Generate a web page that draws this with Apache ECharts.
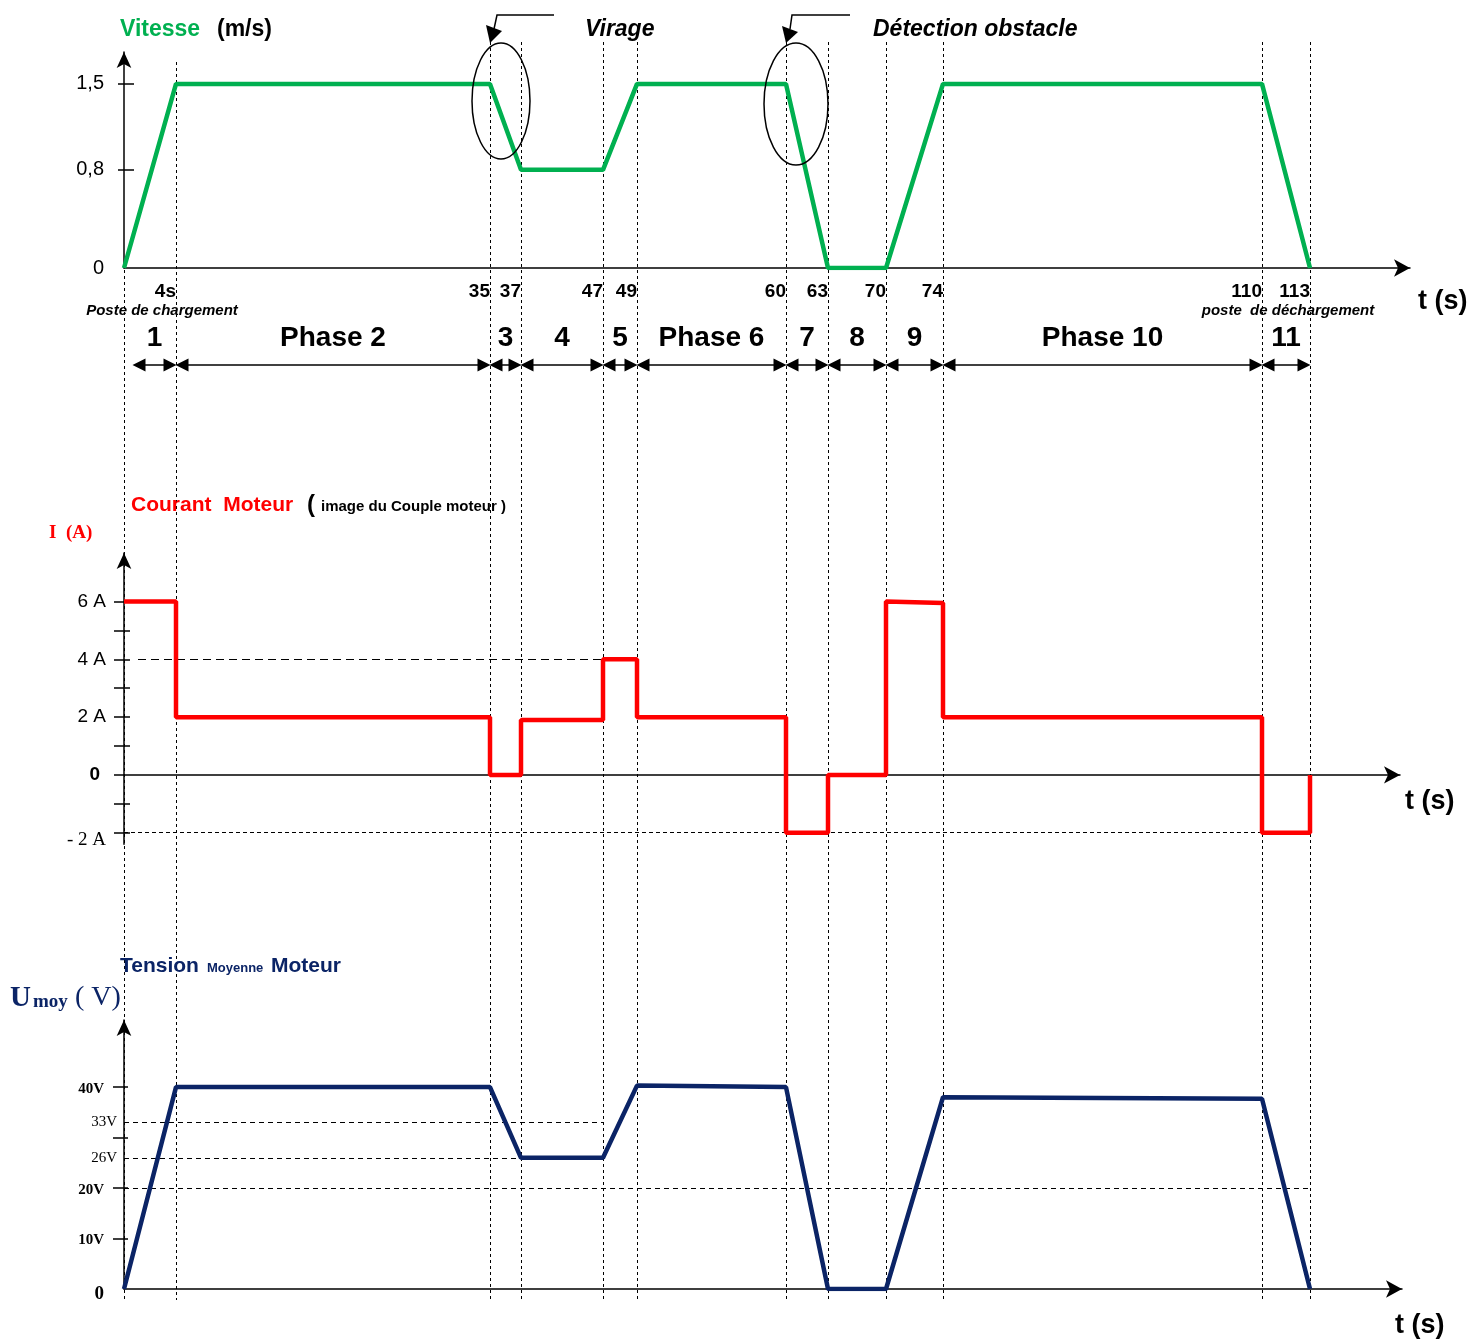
<!DOCTYPE html>
<html><head><meta charset="utf-8">
<script src="https://cdn.jsdelivr.net/npm/echarts@6/dist/echarts.min.js"></script>
<style>html,body{margin:0;padding:0;background:#fff}#c{width:1475px;height:1341px}</style>
</head><body><div id="c"></div>
<script>
// ---- data ----
const times       = [0, 4, 35, 37, 47, 49, 60, 63, 70, 74, 110, 113];
const timeLabels  = ['', '4s', '35', '37', '47', '49', '60', '63', '70', '74', '110', '113'];
// horizontal position of each instant on the (not-to-scale) schematic time axis
const schematicX  = [0, 52, 366, 397, 479, 513, 662, 704, 762, 819, 1138, 1186];
const speed       = [0, 1.5, 1.5, 0.8, 0.8, 1.5, 1.5, 0, 0, 1.5, 1.5, 0];
const phaseNames  = ['1', 'Phase 2', '3', '4', '5', 'Phase 6', '7', '8', '9', 'Phase 10', '11'];
const phaseCurrentStart = [6, 2, 0, 1.9, 4, 2, -2, 0, 6, 2, -2];
const phaseCurrentEnd   = [6, 2, 0, 1.9, 4, 2, -2, 0, 5.95, 2, -2];
const voltage     = [0, 40, 40, 26, 26, 40.3, 40, 0, 0, 38, 37.7, 0];
const speedLabels = [0, 0.8, 1.5];
const currentTicks = [-2, -1, 0, 1, 2, 3, 4, 5, 6];
const currentLabelValues = [-2, 0, 2, 4, 6];
const voltageTicks = [10, 20, 30, 40];
const voltageLabelValues = [0, 10, 20, 26, 33, 40];

// ---- build ----
const FONT = "'Liberation Sans', Arial, sans-serif";
const SERIF = "'Liberation Serif', 'Times New Roman', serif";
const GREEN = '#00B050', RED = '#FF0000', NAVY = '#0B2466';

const speedPts = schematicX.map((x, i) => [x, speed[i]]);
const voltPts = schematicX.map((x, i) => [x, voltage[i]]);
const currentPts = [];
for (let i = 0; i < phaseNames.length; i++) {
  currentPts.push([schematicX[i], phaseCurrentStart[i]]);
  currentPts.push([schematicX[i + 1], phaseCurrentEnd[i]]);
}
currentPts.push([schematicX[schematicX.length - 1], 0]);
const xEnd = schematicX[schematicX.length - 1];
const idx47 = times.indexOf(47);

const verticals = schematicX.map((x, i) => [{ coord: [x, i === 0 ? 270 : (i === 1 ? 62 : 42)] }, { coord: [x, 1300] }]);
const arrows = phaseNames.map((n, i) => [{ coord: [(i === 0 ? 9 : schematicX[i]) + 6, 365] }, { coord: [schematicX[i + 1] - 6, 365] }]);
const phaseMid = phaseNames.map((n, i) => [((i === 0 ? 9 : schematicX[i]) + schematicX[i + 1]) / 2, 338]);

const T = (x, y, text, font, fill, align) => ({
  type: 'text', x, y, z: 100,
  style: { text, font, fill: fill || '#000', align: align || 'left', verticalAlign: 'middle', textAlign: align || 'left', textVerticalAlign: 'middle' }
});

const option = {
  animation: false,
  backgroundColor: '#fff',
  textStyle: { fontFamily: FONT },
  grid: [
    { left: 124, top: 52, width: 1286, height: 216 },
    { left: 124, top: 553, width: 1276, height: 291.3 },
    { left: 124, top: 1020, width: 1278, height: 269 },
    { left: 124, top: 0, width: 1286, height: 1341 }
  ],
  xAxis: [
    { type: 'value', gridIndex: 0, min: 0, max: 1286, splitLine: { show: false },
      axisLine: { onZero: true, symbol: ['none', 'arrow'], symbolSize: [13, 16], lineStyle: { color: '#000', width: 1.5 } },
      axisTick: { show: false },
      axisLabel: { customValues: schematicX.slice(1), formatter: v => timeLabels[schematicX.indexOf(v)],
        align: 'right', margin: 14, fontSize: 19, fontWeight: 'bold', color: '#000', fontFamily: FONT } },
    { type: 'value', gridIndex: 1, min: 0, max: 1276, splitLine: { show: false },
      axisLine: { onZero: true, symbol: ['none', 'arrow'], symbolSize: [13, 16], lineStyle: { color: '#000', width: 1.5 } },
      axisTick: { show: false }, axisLabel: { show: false } },
    { type: 'value', gridIndex: 2, min: 0, max: 1278, splitLine: { show: false },
      axisLine: { onZero: true, symbol: ['none', 'arrow'], symbolSize: [13, 16], lineStyle: { color: '#000', width: 1.5 } },
      axisTick: { show: false }, axisLabel: { show: false } },
    { type: 'value', gridIndex: 3, min: 0, max: 1286, show: false }
  ],
  yAxis: [
    { type: 'value', gridIndex: 0, position: 'left', min: 0, max: 1.76, splitLine: { show: false },
      axisLine: { show: true, symbol: ['none', 'arrow'], symbolSize: [11, 16], lineStyle: { color: '#000', width: 1.5 } },
      axisTick: { show: true, customValues: [0.8, 1.5], length: 6, lineStyle: { color: '#000', width: 1.5 } },
      axisLabel: { customValues: speedLabels, formatter: v => String(v).replace('.', ','), fontSize: 20, color: '#000', margin: 20 } },
    { type: 'value', gridIndex: 1, position: 'left', min: -2.4, max: 7.68, splitLine: { show: false },
      axisLine: { show: true, onZero: false, symbol: ['none', 'arrow'], symbolSize: [11, 16], lineStyle: { color: '#000', width: 1.5 } },
      axisTick: { show: true, customValues: currentTicks, length: 10, lineStyle: { color: '#000', width: 1.5 } },
      axisLabel: { customValues: currentLabelValues, margin: 18, color: '#000',
        formatter: v => v === 0 ? '{z|0}' : (v < 0 ? '{n|- 2 A}' : '{a|' + v + ' A}'),
        rich: { z: { fontSize: 19, fontWeight: 'bold', fontFamily: FONT, color: '#000', padding: [0, 6, 0, 0] },
                n: { fontSize: 19, fontFamily: SERIF, color: '#000', padding: [14, 0, 0, 0] },
                a: { fontSize: 19, fontFamily: FONT, color: '#000' } } } },
    { type: 'value', gridIndex: 2, position: 'left', min: 0, max: 53.3, splitLine: { show: false },
      axisLine: { show: true, symbol: ['none', 'arrow'], symbolSize: [11, 16], lineStyle: { color: '#000', width: 1.5 } },
      axisTick: { show: true, customValues: voltageTicks, length: 11, lineStyle: { color: '#000', width: 1.5 } },
      axisLabel: { customValues: voltageLabelValues, margin: 7, color: '#000',
        formatter: v => v === 0 ? '{z|0}' : ((v === 26 || v === 33) ? '{n|' + v + 'V}' : '{b|' + v + 'V}'),
        rich: { z: { fontSize: 19, fontWeight: 'bold', fontFamily: SERIF, color: '#000', padding: [10, 13, 0, 0] },
                n: { fontSize: 15, fontFamily: SERIF, color: '#000' },
                b: { fontSize: 15, fontWeight: 'bold', fontFamily: SERIF, color: '#000', padding: [4, 13, 0, 0] } } } },
    { type: 'value', gridIndex: 3, min: 0, max: 1341, inverse: true, show: false },
    // inner halves of the crossing tick marks
    { type: 'value', gridIndex: 0, position: 'left', offset: 0, min: 0, max: 1.76, splitLine: { show: false }, axisLine: { show: false }, axisLabel: { show: false },
      axisTick: { show: true, inside: true, customValues: [0.8, 1.5], length: 10, lineStyle: { color: '#000', width: 1.5 } } },
    { type: 'value', gridIndex: 1, position: 'left', offset: 0, min: -2.4, max: 7.68, splitLine: { show: false }, axisLine: { show: false }, axisLabel: { show: false },
      axisTick: { show: true, inside: true, customValues: currentTicks.filter(v => v !== 0), length: 6, lineStyle: { color: '#000', width: 1.5 } } },
    { type: 'value', gridIndex: 2, position: 'left', offset: 0, min: 0, max: 53.3, splitLine: { show: false }, axisLine: { show: false }, axisLabel: { show: false },
      axisTick: { show: true, inside: true, customValues: voltageTicks, length: 4, lineStyle: { color: '#000', width: 1.5 } } }
  ],
  series: [
    { type: 'scatter', xAxisIndex: 3, yAxisIndex: 3, z: 1, silent: true, data: [],
      markLine: { silent: true, symbol: ['none', 'none'], label: { show: false }, lineStyle: { type: [3, 3], color: '#000', width: 1 }, data: verticals } },
    { type: 'scatter', xAxisIndex: 3, yAxisIndex: 3, z: 3, silent: true, symbolSize: 2, itemStyle: { color: 'rgba(0,0,0,0)', opacity: 1 },
      data: phaseMid,
      label: { show: true, position: 'inside', formatter: p => phaseNames[p.dataIndex], fontSize: 28, fontWeight: 'bold', color: '#000', opacity: 1, textBorderWidth: 0, fontFamily: FONT },
      markLine: { silent: true, symbol: ['triangle', 'triangle'], symbolSize: 13, label: { show: false }, lineStyle: { type: 'solid', color: '#000', width: 1.5 }, itemStyle: { color: '#000' }, data: arrows } },
    { type: 'line', name: 'Vitesse', xAxisIndex: 0, yAxisIndex: 0, z: 5, data: speedPts, symbol: 'none',
      lineStyle: { color: GREEN, width: 4.5 }, itemStyle: { color: GREEN } },
    { type: 'line', name: 'Courant', xAxisIndex: 1, yAxisIndex: 1, z: 5, data: currentPts, symbol: 'none',
      lineStyle: { color: RED, width: 4.5 }, itemStyle: { color: RED },
      markLine: { silent: true, symbol: ['none', 'none'], label: { show: false }, z: 2,
        data: [
          [{ coord: [14, 4], lineStyle: { type: [8, 5], color: '#000', width: 1 } }, { coord: [schematicX[idx47], 4] }],
          [{ coord: [0, -2], lineStyle: { type: [4, 3], color: '#000', width: 1 } }, { coord: [xEnd, -2] }]
        ] } },
    { type: 'line', name: 'Tension', xAxisIndex: 2, yAxisIndex: 2, z: 5, data: voltPts, symbol: 'none',
      lineStyle: { color: NAVY, width: 4.5 }, itemStyle: { color: NAVY },
      markLine: { silent: true, symbol: ['none', 'none'], label: { show: false }, z: 2, lineStyle: { type: [5, 4], color: '#000', width: 1 },
        data: [
          [{ coord: [0, 33] }, { coord: [schematicX[idx47], 33] }],
          [{ coord: [0, 26] }, { coord: [schematicX[idx47], 26] }],
          [{ coord: [0, 20] }, { coord: [xEnd, 20] }]
        ] } }
  ],
  graphic: [
    T(120, 30, 'Vitesse', 'bold 23px ' + FONT, GREEN),
    T(217, 30, '(m/s)', 'bold 23px ' + FONT, '#000'),
    T(585, 30, 'Virage', 'italic bold 23px ' + FONT, '#000'),
    T(873, 30, 'Détection obstacle', 'italic bold 23px ' + FONT, '#000'),
    { type: 'ellipse', shape: { cx: 501, cy: 101, rx: 29, ry: 58 }, style: { fill: 'none', stroke: '#000', lineWidth: 1.5 }, z: 50 },
    { type: 'ellipse', shape: { cx: 796, cy: 104, rx: 32, ry: 61 }, style: { fill: 'none', stroke: '#000', lineWidth: 1.5 }, z: 50 },
    { type: 'polyline', shape: { points: [[554, 15], [497, 15], [494, 29]] }, style: { fill: 'none', stroke: '#000', lineWidth: 1.5 }, z: 50 },
    { type: 'polygon', shape: { points: [[486, 25], [502, 31], [490, 43]] }, style: { fill: '#000' }, z: 50 },
    { type: 'polyline', shape: { points: [[850, 15], [792, 15], [790, 29]] }, style: { fill: 'none', stroke: '#000', lineWidth: 1.5 }, z: 50 },
    { type: 'polygon', shape: { points: [[782, 26], [798, 32], [786, 43]] }, style: { fill: '#000' }, z: 50 },
    T(162, 311, 'Poste de chargement', 'italic bold 15px ' + FONT, '#000', 'center'),
    T(1288, 311, 'poste  de déchargement', 'italic bold 15px ' + FONT, '#000', 'center'),
    T(1418, 302, 't (s)', 'bold 27px ' + FONT, '#000'),
    T(1405, 802, 't (s)', 'bold 27px ' + FONT, '#000'),
    T(1395, 1326, 't (s)', 'bold 27px ' + FONT, '#000'),
    T(131, 505, 'Courant  Moteur', 'bold 21px ' + FONT, RED),
    T(307, 505, '(', 'bold 24px ' + FONT, '#000'),
    T(321, 507, 'image du Couple moteur )', 'bold 15px ' + FONT, '#000'),
    T(49, 533, 'I  (A)', 'bold 19px ' + SERIF, RED),
    T(120, 966, 'Tension', 'bold 21px ' + FONT, NAVY),
    T(207, 968, 'Moyenne', 'bold 13px ' + FONT, NAVY),
    T(271, 966, 'Moteur', 'bold 21px ' + FONT, NAVY),
    T(10, 999, 'U', 'bold 29px ' + SERIF, NAVY),
    T(33, 1002, 'moy', 'bold 19px ' + SERIF, NAVY),
    T(75, 998, '( V)', '28px ' + SERIF, NAVY)
  ]
};
const chart = echarts.init(document.getElementById('c'));
chart.setOption(option);
</script>
</body></html>
